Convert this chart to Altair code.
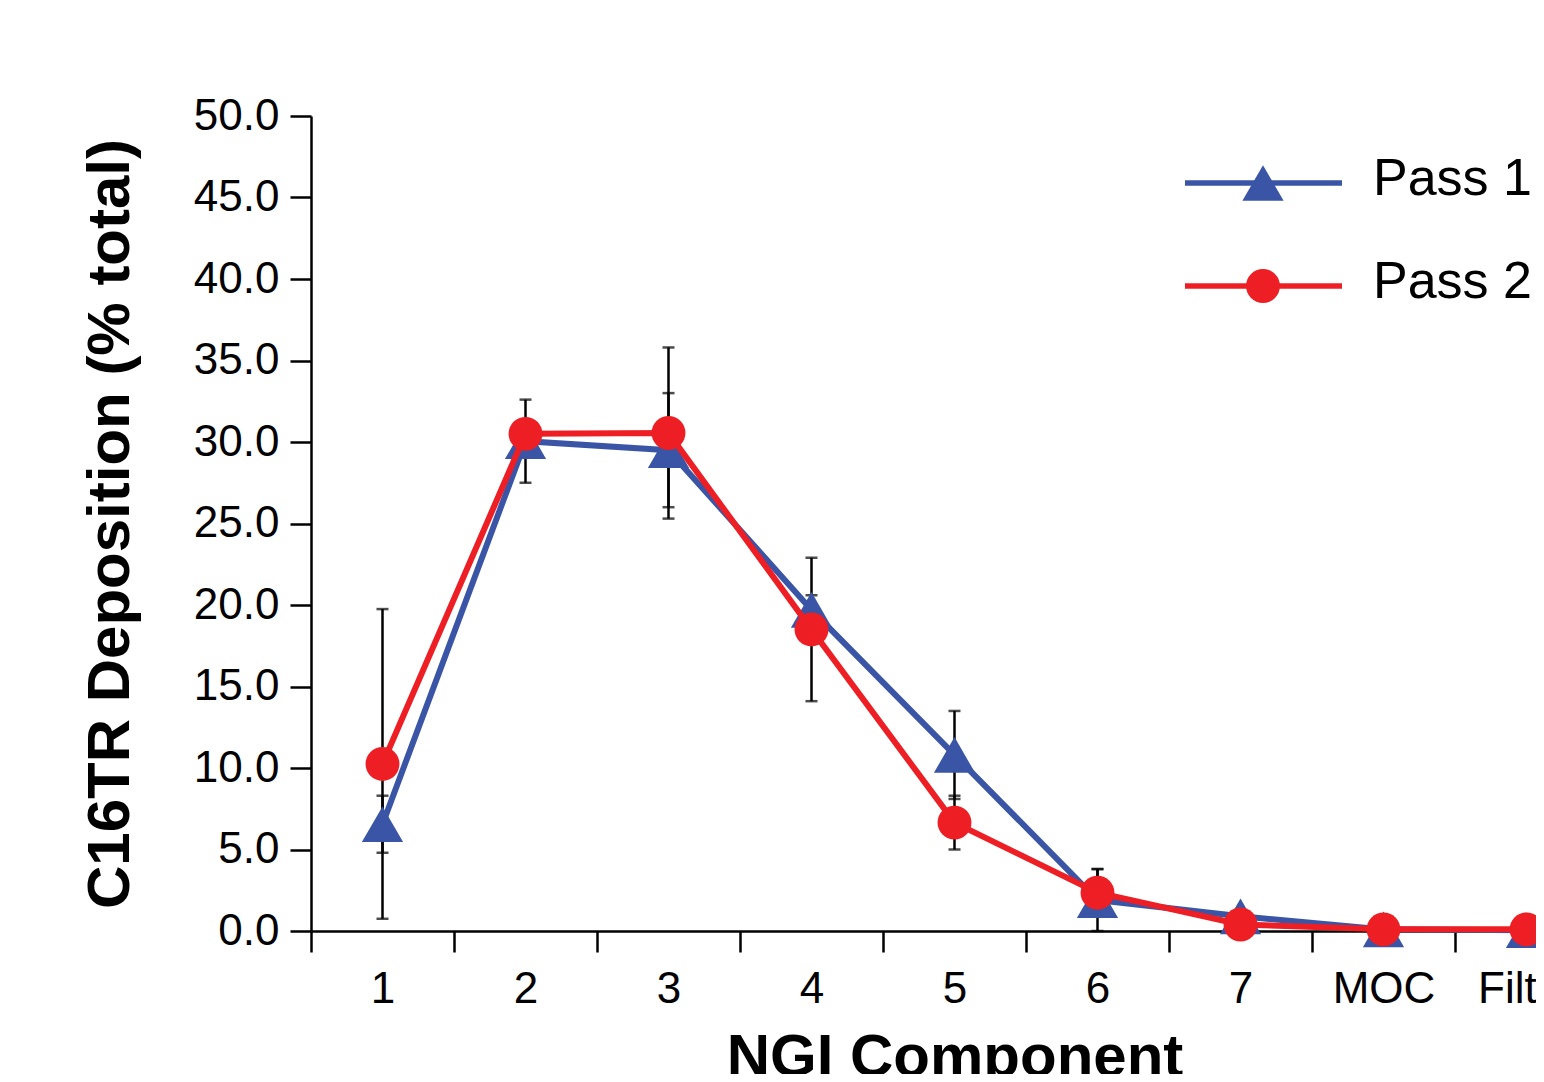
import altair as alt
import pandas as pd

components = ["1", "2", "3", "4", "5", "6", "7", "MOC", "Filter"]
pass1_mean = [6.55, 30.05, 29.5, 19.7, 10.8, 1.9, 0.9, 0.1, 0.05]
pass1_sd = [1.75, 2.55, 3.5, 0.9, 2.7, 1.9, 0.3, 0.05, 0.05]
pass2_mean = [10.25, 30.5, 30.55, 18.5, 6.65, 2.35, 0.4, 0.1, 0.1]
pass2_sd = [9.5, 0.8, 5.25, 4.4, 1.65, 1.45, 0.2, 0.05, 0.05]
series_names = ["Pass 1", "Pass 2"]
y_ticks = [0, 5, 10, 15, 20, 25, 30, 35, 40, 45, 50]

BLUE = "#3a55a5"
RED = "#ed1f24"
FONT = "Liberation Sans"

rows = []
for name, means, sds in [(series_names[0], pass1_mean, pass1_sd),
                         (series_names[1], pass2_mean, pass2_sd)]:
    for c, m, s in zip(components, means, sds):
        rows.append({"component": c, "series": name, "mean": m,
                     "lo": m - s, "hi": m + s})
df = pd.DataFrame(rows)

x_enc = alt.X(
    "component:N",
    sort=components,
    scale=alt.Scale(type="band", domain=components, paddingInner=0, paddingOuter=0),
    axis=alt.Axis(
        title="NGI Component", labelAngle=0, tickBand="extent",
        labelFontSize=44, labelFont=FONT, labelColor="black", labelPadding=15,
        tickSize=21, tickWidth=2.5, tickColor="black",
        domainWidth=2.5, domainColor="black",
        titleFontSize=60, titleFont=FONT, titleFontWeight="bold",
        titleColor="black", titlePadding=17,
    ),
)
y_scale = alt.Scale(domain=[0, 50], nice=False)
y_axis = alt.Axis(
    title="C16TR Deposition (% total)", values=y_ticks, format=".1f",
    labelFontSize=44, labelFont=FONT, labelColor="black", labelPadding=11,
    tickSize=21, tickWidth=2.5, tickColor="black",
    domainWidth=2.5, domainColor="black", grid=False,
    titleFontSize=60, titleFont=FONT, titleFontWeight="bold",
    titleColor="black", titlePadding=52,
)

base = alt.Chart(df)

err = base.mark_rule(color="black", strokeWidth=2.5).encode(
    x=x_enc, y=alt.Y("lo:Q", scale=y_scale, axis=y_axis), y2="hi:Q")
cap_lo = base.mark_tick(color="black", thickness=2.5, size=12, orient="horizontal").encode(
    x=x_enc, y=alt.Y("lo:Q", scale=y_scale, axis=y_axis))
cap_hi = base.mark_tick(color="black", thickness=2.5, size=12, orient="horizontal").encode(
    x=x_enc, y=alt.Y("hi:Q", scale=y_scale, axis=y_axis))

def series_layers(name, color, shape, size):
    d = base.transform_filter(alt.datum.series == name)
    line = d.mark_line(color=color, strokeWidth=6).encode(
        x=x_enc, y=alt.Y("mean:Q", scale=y_scale, axis=y_axis))
    pts = d.mark_point(filled=True, color=color, shape=shape, size=size, opacity=1).encode(
        x=x_enc, y=alt.Y("mean:Q", scale=y_scale, axis=y_axis))
    return [line, pts]

p1 = series_layers(series_names[0], BLUE, "triangle-up", 1700)
p2 = series_layers(series_names[1], RED, "circle", 1150)

def legend_entry(name, color, shape, size, ypos):
    ld = alt.Chart(pd.DataFrame({"label": [name]}))
    ln = ld.mark_rule(color=color, strokeWidth=5.5).encode(
        x=alt.value(874), x2=alt.value(1031), y=alt.value(ypos))
    pt = ld.mark_point(filled=True, color=color, shape=shape, size=size, opacity=1).encode(
        x=alt.value(952), y=alt.value(ypos))
    tx = ld.mark_text(align="left", baseline="alphabetic", fontSize=52, font=FONT,
                      color="black").encode(
        x=alt.value(1062), y=alt.value(ypos + 12), text="label:N")
    return [ln, pt, tx]

leg = legend_entry(series_names[0], BLUE, "triangle-up", 1700, 67) + \
      legend_entry(series_names[1], RED, "circle", 1150, 170)

chart = alt.layer(err, cap_lo, cap_hi, *p1, *p2, *leg).properties(
    width=1287, height=815,
    background="white",
    autosize=alt.AutoSizeParams(type="none"),
    padding={"left": 303, "top": 108, "right": -62, "bottom": 143},
).configure_view(stroke=None, strokeWidth=0)

chart.save("out.html", embed_options={"renderer": "svg", "actions": False})
